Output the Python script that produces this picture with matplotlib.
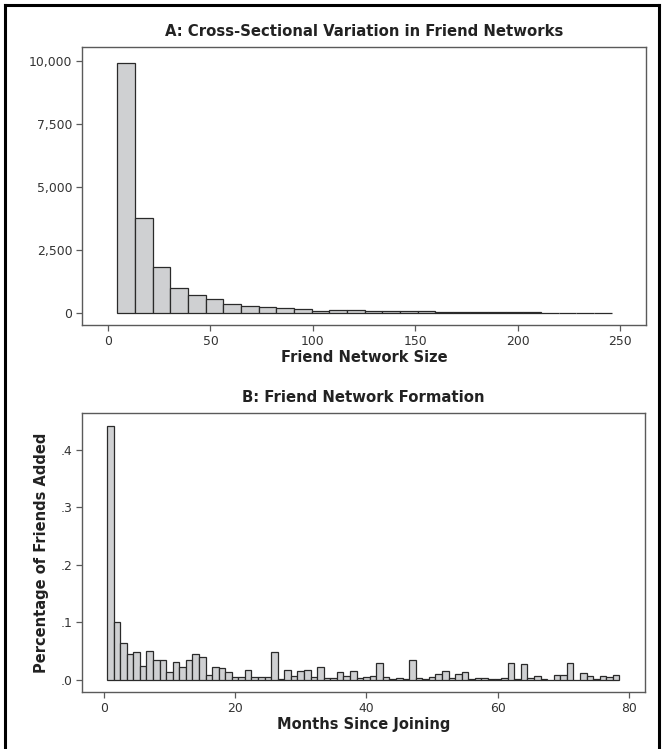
import matplotlib
matplotlib.use("Agg")
import matplotlib.pyplot as plt
from matplotlib.lines import Line2D
import numpy as np

plt.rcParams['font.family'] = ['DejaVu Sans']

# ---- Panel A data: histogram of friend network size ----
a_bin_start = 4.5
a_bin_width = 8.625
a_counts = [9930, 3770, 1810, 1005, 730, 556, 370, 291, 225, 190,
            172, 95, 120, 118, 80, 78, 65, 62, 42, 40,
            30, 28, 25, 22, 20, 18, 15, 12]
a_xticks = [0, 50, 100, 150, 200, 250]
a_yticks = [0, 2500, 5000, 7500, 10000]
a_yticklabels = ["0", "2,500", "5,000", "7,500", "10,000"]

# ---- Panel B data: share of friends added by month since joining ----
b_months = list(range(1, 79))
b_share = [0.441, 0.100, 0.065, 0.0445, 0.049, 0.025, 0.051, 0.034, 0.034, 0.0145,
           0.031, 0.022, 0.034, 0.046, 0.040, 0.009, 0.023, 0.020, 0.013, 0.005,
           0.006, 0.017, 0.005, 0.005, 0.005, 0.048, 0.002, 0.017, 0.0075, 0.015,
           0.017, 0.006, 0.022, 0.0035, 0.0035, 0.013, 0.007, 0.015, 0.003, 0.006,
           0.007, 0.030, 0.0046, 0.0023, 0.003, 0.0017, 0.035, 0.0035, 0.0017, 0.006,
           0.0104, 0.015, 0.003, 0.0098, 0.0133, 0.0017, 0.003, 0.003, 0.0012, 0.0012,
           0.003, 0.0295, 0.0017, 0.0277, 0.003, 0.0064, 0.0012, 0.0006, 0.008, 0.009,
           0.0295, 0.0006, 0.012, 0.0075, 0.0012, 0.0075, 0.0052, 0.008]
b_xticks = [0, 20, 40, 60, 80]
b_yticks = [0.0, 0.1, 0.2, 0.3, 0.4]
b_yticklabels = [".0", ".1", ".2", ".3", ".4"]

W, H = 664, 749
fig = plt.figure(figsize=(W / 100, H / 100), dpi=100)
fig.patch.set_facecolor("white")

FILL = "#cfd0d2"
EDGE = "#2a2a2a"
SPINE = "#5a5a5a"
TXT = "#222222"
TITLE_FS = 10.7
LABEL_FS = 10.5
TICK_FS = 8.9

def px_axes(l, t, r, b):
    return fig.add_axes([l / W, 1 - b / H, (r - l) / W, (b - t) / H])

def style(ax):
    for s in ax.spines.values():
        s.set_color(SPINE)
        s.set_linewidth(1.0)
    ax.tick_params(direction="out", length=4, width=0.9, color=SPINE,
                   labelsize=TICK_FS, labelcolor="#333333", pad=3)

# ---- Panel A ----
axA = px_axes(82, 47, 646, 325)
edges = [a_bin_start + a_bin_width * i for i in range(len(a_counts))]
axA.bar(edges, a_counts, width=a_bin_width, align="edge",
        color=FILL, edgecolor=EDGE, linewidth=0.9)
axA.set_xlim(-12.7, 262.7)
axA.set_ylim(-476, 10556)
axA.set_xticks(a_xticks)
axA.set_yticks(a_yticks)
axA.set_yticklabels(a_yticklabels)
style(axA)
axA.set_title("A: Cross-Sectional Variation in Friend Networks",
              fontsize=TITLE_FS, fontweight="bold", color=TXT, pad=8)
axA.set_xlabel("Friend Network Size", fontsize=LABEL_FS, fontweight="bold",
               color=TXT, labelpad=2)

# ---- Panel B ----
axB = px_axes(82, 413, 645, 692)
axB.bar(b_months, b_share, width=1.0, align="center",
        color=FILL, edgecolor=EDGE, linewidth=0.9)
axB.set_xlim(-3.3, 82.4)
axB.set_ylim(-0.0209, 0.464)
axB.set_xticks(b_xticks)
axB.set_yticks(b_yticks)
axB.set_yticklabels(b_yticklabels)
style(axB)
axB.set_title("B: Friend Network Formation", fontsize=TITLE_FS,
              fontweight="bold", color=TXT, pad=8)
axB.set_xlabel("Months Since Joining", fontsize=LABEL_FS, fontweight="bold",
               color=TXT, labelpad=2)
axB.set_ylabel("Percentage of Friends Added", fontsize=LABEL_FS,
               fontweight="bold", color=TXT, labelpad=8)

# ---- outer frame (left, top, right) ----
lw = 2.2
fig.add_artist(Line2D([5 / W, 5 / W], [0, 1 - 5 / H], transform=fig.transFigure,
                      color="black", linewidth=lw))
fig.add_artist(Line2D([5 / W, 659 / W], [1 - 5 / H, 1 - 5 / H], transform=fig.transFigure,
                      color="black", linewidth=lw))
fig.add_artist(Line2D([659 / W, 659 / W], [0, 1 - 5 / H], transform=fig.transFigure,
                      color="black", linewidth=lw))

fig.savefig("out.png", dpi=100, facecolor="white")
